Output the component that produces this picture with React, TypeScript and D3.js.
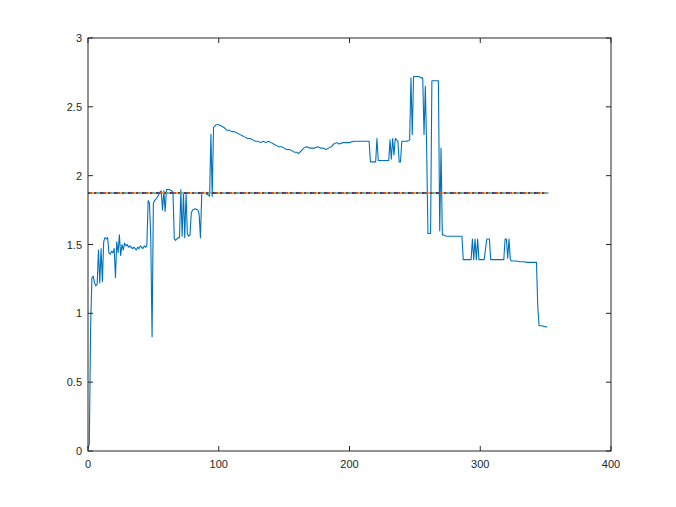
import React from "react";
import * as d3 from "d3";

const sampleX = [
  0, 1, 2, 3, 4, 5, 6, 7, 8, 9, 10, 11, 12, 13, 14, 15, 16, 17, 18, 19,
  20, 21, 22, 23, 24, 25, 26, 27, 28, 29, 30, 31, 32, 33, 34, 35, 36, 37, 38, 39,
  40, 41, 42, 43, 44, 45, 46, 47,
  48, 49, 50, 51, 52, 54, 55, 56, 57, 58, 59, 60, 62, 64, 65, 66, 67, 69, 70, 71,
  72, 73, 74, 75, 76, 77, 78, 79, 80, 82, 84, 85, 86, 87, 88, 90, 92, 93, 94, 95,
  96, 97, 98, 100, 102, 104, 106, 108, 110, 112, 114, 116, 118, 120, 122, 124, 126, 128, 130, 132,
  134, 136, 138, 140, 142, 144, 146, 148, 150, 152, 154, 156, 158, 160, 161, 163, 165, 167, 170, 173,
  176, 178, 180, 182, 184, 186, 188, 190, 192, 195, 198, 200, 203, 206, 209, 212, 215, 216, 218, 220,
  221, 222, 224, 226, 228, 230, 231, 232, 233, 234, 235, 236, 237, 238, 239, 240, 242, 244, 246, 247,
  248, 249, 251, 253, 255, 256, 257, 258, 259, 260, 261, 262, 263, 265, 267, 268, 269, 270, 271, 272,
  274, 276, 278, 280, 282, 284, 286, 287, 289, 291, 293, 294, 295, 296, 297, 298, 299, 301, 303, 305,
  307, 308, 310, 312, 315, 318, 319, 320, 321, 322, 323, 324, 326, 328, 330, 333, 336, 339, 342, 343,
  344, 345, 347, 349, 351,
];
const ratioY = [
  0.02, 0.05, 0.9, 1.26, 1.27, 1.22, 1.2, 1.21, 1.46, 1.22, 1.47, 1.23, 1.52, 1.55, 1.54, 1.55, 1.44, 1.43, 1.45, 1.44,
  1.47, 1.26, 1.52, 1.44, 1.57, 1.42, 1.5, 1.46, 1.51, 1.49, 1.5, 1.48, 1.49, 1.48, 1.47, 1.48, 1.47, 1.46, 1.48, 1.47,
  1.49, 1.48, 1.47, 1.49, 1.48, 1.49, 1.82, 1.8,
  1.55, 0.83, 1.8, 1.82, 1.83, 1.86, 1.88, 1.89, 1.75, 1.89, 1.74, 1.9, 1.9, 1.89, 1.88, 1.54, 1.53, 1.55, 1.55, 1.9,
  1.56, 1.88, 1.55, 1.87, 1.58, 1.56, 1.57, 1.73, 1.75, 1.76, 1.75, 1.72, 1.55, 1.87, 1.88, 1.87, 1.86, 1.85, 2.3, 1.85,
  2.35, 2.36, 2.37, 2.37, 2.36, 2.35, 2.33, 2.33, 2.32, 2.32, 2.31, 2.3, 2.29, 2.28, 2.27, 2.27, 2.26, 2.25, 2.25, 2.24,
  2.25, 2.24, 2.25, 2.24, 2.23, 2.22, 2.21, 2.21, 2.2, 2.19, 2.19, 2.18, 2.17, 2.17, 2.16, 2.18, 2.2, 2.21, 2.2, 2.2,
  2.21, 2.2, 2.2, 2.19, 2.2, 2.21, 2.23, 2.24, 2.23, 2.24, 2.24, 2.24, 2.25, 2.25, 2.25, 2.25, 2.25, 2.1, 2.1, 2.1,
  2.27, 2.11, 2.11, 2.11, 2.11, 2.11, 2.26, 2.12, 2.27, 2.15, 2.27, 2.26, 2.25, 2.1, 2.1, 2.25, 2.25, 2.25, 2.26, 2.71,
  2.3, 2.72, 2.72, 2.72, 2.71, 2.71, 2.3, 2.65, 2.2, 1.58, 1.58, 1.58, 2.69, 2.69, 2.69, 2.69, 1.6, 2.2, 1.57, 1.57,
  1.56, 1.56, 1.56, 1.56, 1.56, 1.56, 1.56, 1.39, 1.39, 1.39, 1.39, 1.54, 1.39, 1.54, 1.39, 1.54, 1.39, 1.39, 1.39, 1.54,
  1.54, 1.39, 1.39, 1.39, 1.39, 1.39, 1.54, 1.54, 1.4, 1.54, 1.39, 1.38, 1.38, 1.38, 1.375, 1.375, 1.37, 1.37, 1.37, 1.37,
  1.05, 0.91, 0.91, 0.905, 0.9,
];

const refLevel = 1.874;
const refXStart = 0;
const refXEnd = 352;
const refColors = ["#0072BD", "#D95319", "#EDB120", "#7E2F8E", "#77AC30", "#4DBEEE", "#A2142F"];

const xDomain = [0, 400];
const yDomain = [0, 3];
const xTicks = [0, 100, 200, 300, 400];
const yTicks = [0, 0.5, 1, 1.5, 2, 2.5, 3];

export default function App() {
  const W = 676;
  const H = 507;
  const left = 88, right = 611, top = 38, bottom = 451;
  const x = d3.scaleLinear().domain(xDomain).range([left, right]);
  const y = d3.scaleLinear().domain(yDomain).range([bottom, top]);

  const pts: [number, number][] = sampleX.map((v, i) => [v, ratioY[i]]);
  const line = d3.line<[number, number]>().x((d) => x(d[0])).y((d) => y(d[1]));
  const refPts: [number, number][] = [[refXStart, refLevel], [refXEnd, refLevel]];

  const axisColor = "#262626";
  const tickLen = 5;
  const font = "'Liberation Sans', Arial, Helvetica, sans-serif";
  const period = refColors.length * 2;

  return (
    <svg width={W} height={H} style={{ position: "absolute", left: 0, top: 0, background: "#fff" }}>
      <rect x={0} y={0} width={W} height={H} fill="#fff" />
      <path d={line(pts) || ""} fill="none" stroke="#0072BD" strokeWidth={1.1} strokeLinejoin="round" />
      {refColors.map((c, i) => (
        <path
          key={c}
          d={line(refPts) || ""}
          fill="none"
          stroke={c}
          strokeWidth={2}
          strokeDasharray={`2 ${period - 2}`}
          strokeDashoffset={-i * 2}
        />
      ))}
      <rect x={left} y={top} width={right - left} height={bottom - top} fill="none" stroke={axisColor} strokeWidth={1} />
      {xTicks.map((t) => (
        <g key={"x" + t}>
          <line x1={x(t)} x2={x(t)} y1={bottom} y2={bottom - tickLen} stroke={axisColor} />
          <line x1={x(t)} x2={x(t)} y1={top} y2={top + tickLen} stroke={axisColor} />
          <text x={x(t)} y={468} textAnchor="middle" fontSize={11} fontFamily={font} fill={axisColor}>
            {t}
          </text>
        </g>
      ))}
      {yTicks.map((t) => (
        <g key={"y" + t}>
          <line x1={left} x2={left + tickLen} y1={y(t)} y2={y(t)} stroke={axisColor} />
          <line x1={right} x2={right - tickLen} y1={y(t)} y2={y(t)} stroke={axisColor} />
          <text x={82} y={y(t) + 4} textAnchor="end" fontSize={11} fontFamily={font} fill={axisColor}>
            {t}
          </text>
        </g>
      ))}
    </svg>
  );
}
